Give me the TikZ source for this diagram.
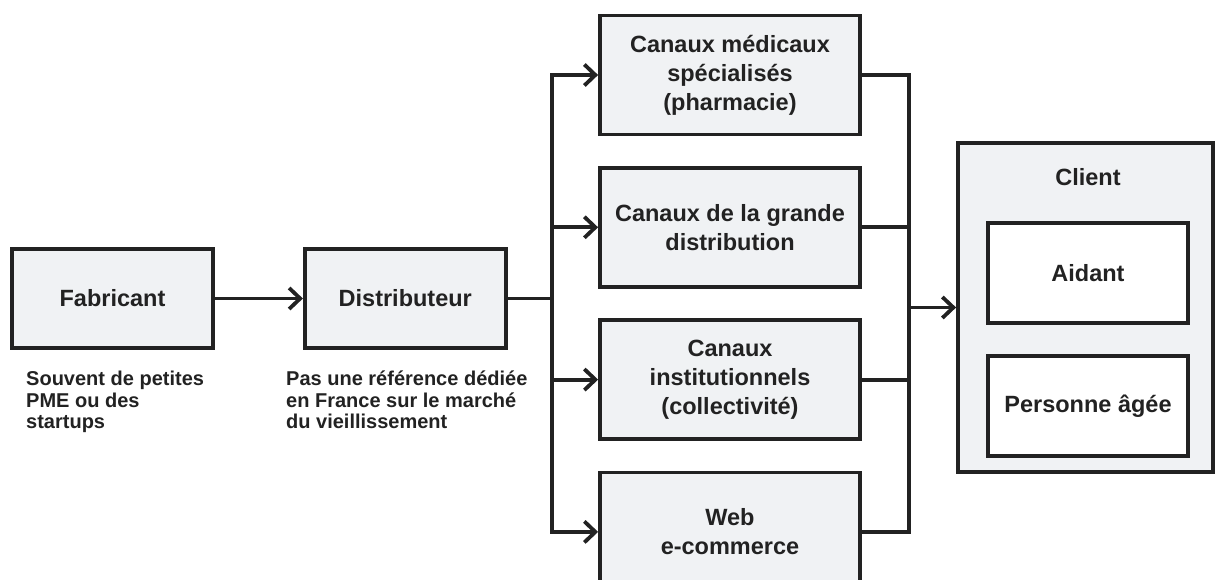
\documentclass[tikz,border=0pt]{standalone}
\usepackage{fontspec}
\setmainfont{Liberation Sans}
\usepackage{tikz}
\usetikzlibrary{
  arrows.meta,
  positioning,
}
\definecolor{boxfill}{HTML}{F0F2F4}
\definecolor{ink}{HTML}{222222}

\begin{document}
\begin{tikzpicture}[x=1pt, y=1pt,
  box/.style={draw=ink, line width=3.8pt, fill=boxfill, minimum width=201pt, minimum height=99pt, align=center, font=\fontsize{23.5}{29}\selectfont\bfseries, text=ink},
  chan/.style={box, minimum width=260pt, minimum height=119pt},
  inbox/.style={box, fill=white, minimum width=200pt, minimum height=100pt},
  note/.style={inner sep=0pt, anchor=north west, align=left, font=\fontsize{20}{21.5}\selectfont\bfseries, text=ink},
  wire/.style={draw=ink, line width=3.8pt},
  arr/.style={wire, -{Straight Barb[length=11pt, width=21pt]}}]
\useasboundingbox (0,0) rectangle (1216,-580);

\node[box] (fab) at (112.5,-298.5) {Fabricant};
\node[box, right=88pt of fab] (dist) {Distributeur};

\node[note] (fabnote) at (26,-371) {Souvent de petites\\PME ou des\\startups};
\node[note] (distnote) at (286,-371) {Pas une référence dédiée\\en France sur le marché\\du vieillissement};

\node[chan] (c1) at (730,-75) {Canaux médicaux\\spécialisés\\(pharmacie)};
\node[chan, below=29.5pt of c1] (c2) {Canaux de la grande\\distribution};
\node[chan, below=29.5pt of c2] (c3) {Canaux\\institutionnels\\(collectivité)};
\node[chan, below=29.5pt of c3] (c4) {Web\\e-commerce};

\node[box, minimum width=255pt, minimum height=329pt] (cli) at (1085.5,-307.5) {};
\node[font=\fontsize{23.5}{29}\selectfont\bfseries, text=ink] (clititle) at (1088,-177) {Client};
\node[inbox] (aid) at (1088,-273) {Aidant};
\node[inbox, below=29pt of aid] (pers) {Personne âgée};

\coordinate (lb) at (552,-298.5);
\coordinate (rb) at (909,-307.5);

\draw[arr] (fab) -- (dist);
\draw[wire] (dist.east) -- (lb);
\foreach \c in {c1,c2,c3,c4}
  \draw[arr] (lb) |- (\c);
\foreach \c in {c1,c2,c3,c4}
  \draw[wire] (\c.east) -| (rb);
\draw[arr] (rb) -- (cli);
\end{tikzpicture}
\end{document}
